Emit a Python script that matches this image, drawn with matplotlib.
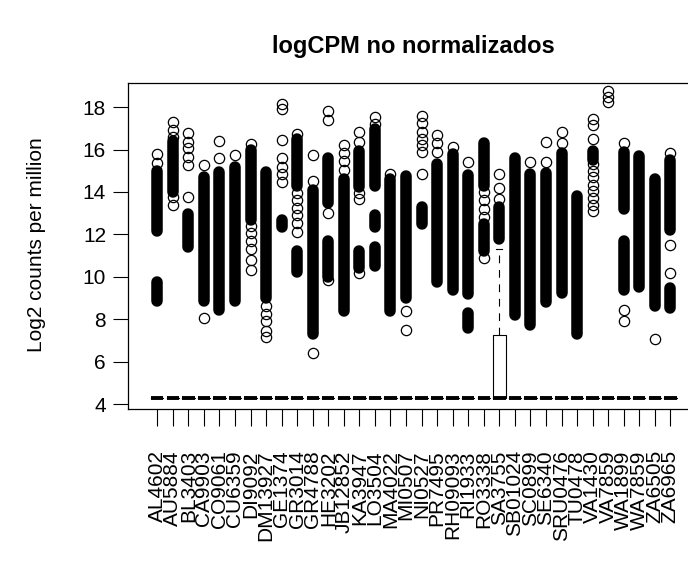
import numpy as np
import matplotlib
matplotlib.use('Agg')
import matplotlib.pyplot as plt

plt.rcParams['font.family'] = ['Liberation Sans', 'DejaVu Sans']

# --- data --------------------------------------------------------------
samples = ['AL4602', 'AU5884', 'BL3403', 'CA9903', 'CO9061', 'CU6359',
           'DI9092', 'DM13927', 'GE1374', 'GR3014', 'GR4788', 'HE3202',
           'JB12852', 'KA3947', 'LO3504', 'MA4022', 'MI0507', 'NI0527',
           'PR7495', 'RH09093', 'RI1933', 'RO3338', 'SA3755', 'SB01024',
           'SC0899', 'SE6340', 'SRU0476', 'TU0478', 'VA1430', 'VA7859',
           'WA1899', 'WA7859', 'ZA6505', 'ZA6965']

# box statistics (almost every sample collapses onto the logCPM floor)
box_q1 = [4.28] * 34
box_med = [4.28] * 34
box_q3 = [4.28, 4.28, 4.28, 4.28, 4.28, 4.28, 4.28, 4.28, 4.28, 4.28,
          4.28, 4.28, 4.28, 4.28, 4.28, 4.28, 4.28, 4.28, 4.28, 4.28,
          4.28, 4.28, 7.25, 4.28, 4.28, 4.28, 4.28, 4.28, 4.28, 4.28,
          4.28, 4.28, 4.28, 4.28]
whisk_lo = [4.28] * 34
whisk_hi = [4.28, 4.28, 4.28, 4.28, 4.28, 4.28, 4.28, 4.28, 4.28, 4.28,
            4.28, 4.28, 4.28, 4.28, 4.28, 4.28, 4.28, 4.28, 4.28, 4.28,
            4.28, 4.28, 11.3, 4.28, 4.28, 4.28, 4.28, 4.28, 4.28, 4.28,
            4.28, 4.28, 4.28, 4.28]

# outlier runs where the circles pile up into a solid column (lo, hi)
dense_runs = [
    [(12.15, 15.0), (8.85, 9.75)],
    [(14.0, 16.4)],
    [(11.42, 12.95)],
    [(8.85, 14.7)],
    [(8.45, 14.95)],
    [(8.85, 15.2)],
    [(12.7, 16.0)],
    [(9.0, 14.95)],
    [(12.36, 12.7)],
    [(14.3, 16.5), (10.25, 11.2)],
    [(7.3, 14.1)],
    [(13.5, 15.6), (10.0, 11.7)],
    [(8.4, 14.6)],
    [(14.25, 15.95), (10.4, 11.2)],
    [(14.3, 16.95), (12.35, 12.9), (10.5, 11.4)],
    [(8.4, 14.6)],
    [(9.0, 14.75)],
    [(12.5, 13.3)],
    [(9.75, 15.3)],
    [(9.4, 15.8)],
    [(9.2, 14.8), (7.6, 8.3)],
    [(14.3, 16.3), (11.2, 12.5)],
    [(11.8, 13.3)],
    [(8.2, 15.6)],
    [(7.75, 14.85)],
    [(8.8, 14.9)],
    [(9.25, 15.85)],
    [(7.3, 13.8)],
    [(15.5, 15.95)],
    [],
    [(13.2, 15.9), (9.4, 11.7)],
    [(9.5, 15.7)],
    [(8.6, 14.6)],
    [(12.2, 15.5), (8.55, 9.45)],
]

# single outlier circles
lone_points = [
    [15.8, 15.35],
    [17.3, 16.9, 16.6, 13.75, 13.4],
    [16.76, 16.37, 16.06, 15.66, 15.27, 13.76],
    [15.25, 8.05],
    [16.4, 15.6],
    [15.75],
    [16.25, 12.4, 12.05, 11.7, 11.3, 10.8, 10.3],
    [8.6, 8.25, 7.9, 7.45, 7.15],
    [18.15, 17.9, 16.45, 15.58, 15.19, 14.87, 14.48],
    [16.75, 13.95, 13.6, 13.25, 12.9, 12.55, 12.1],
    [15.75, 14.5, 6.4],
    [17.8, 17.4, 13.0, 9.85],
    [16.2, 15.85, 15.45, 15.05],
    [16.85, 16.35, 13.95, 13.65, 10.2],
    [17.55, 17.2],
    [14.85],
    [8.4, 7.5],
    [17.6, 17.25, 16.85, 16.5, 16.2, 15.9, 14.85],
    [16.7, 16.3, 15.9],
    [16.1],
    [15.4],
    [14.0, 13.6, 13.2, 12.8, 10.9],
    [13.65, 14.2, 14.85],
    [],
    [15.4],
    [16.35, 15.4],
    [16.85, 16.3],
    [],
    [17.45, 17.15, 16.5, 15.3, 15.0, 14.7, 14.35, 14.05, 13.7, 13.4, 13.1],
    [18.75, 18.5, 18.25],
    [16.3, 8.45, 7.9],
    [],
    [7.05],
    [15.85, 11.5, 10.2],
]

# --- figure --------------------------------------------------------------
fig = plt.figure(figsize=(6.88, 5.67), dpi=100)
ax = fig.add_axes([0.1865, 0.2795, 0.8299, 0.5746])

pos = np.arange(1, len(samples) + 1)

stats = []
for i, name in enumerate(samples):
    stats.append(dict(med=box_med[i], q1=box_q1[i], q3=box_q3[i],
                      whislo=whisk_lo[i], whishi=whisk_hi[i],
                      fliers=np.array(lone_points[i]), label=name))

ax.bxp(stats, positions=pos, widths=0.8, capwidths=0.4,
       boxprops=dict(color='black', lw=0.8),
       medianprops=dict(color='black', lw=2.8, solid_capstyle='butt'),
       whiskerprops=dict(color='black', lw=0.8, linestyle=(0, (7, 6))),
       capprops=dict(color='black', lw=0.8),
       flierprops=dict(marker='o', markersize=7.4, markerfacecolor='none',
                       markeredgecolor='black', markeredgewidth=0.9))

# piled-up outliers, drawn as a column one circle wide
for x, runs in zip(pos, dense_runs):
    for lo, hi in runs:
        ax.plot([x, x], [lo, hi], color='black', lw=8.3,
                solid_capstyle='round', zorder=2)

ax.set_xlim(-0.86, 35.86)
ax.set_ylim(3.79, 19.15)

ax.set_yticks([4, 6, 8, 10, 12, 14, 16, 18])
ax.set_xticks(pos)
ax.set_xticklabels(samples, rotation=90, fontsize=15)
ax.tick_params(axis='y', labelsize=15, length=11, width=0.8, pad=5)
ax.tick_params(axis='x', length=12, width=0.8, pad=18)
for s in ax.spines.values():
    s.set_linewidth(0.9)

fig.text(37 / 688, 1 - 245 / 567, 'Log2 counts per million', rotation=90,
         ha='center', va='center', fontsize=15)
fig.text(413.8 / 688, 1 - 47 / 567, 'logCPM no normalizados',
         ha='center', va='center', fontsize=17, fontweight='bold')

fig.savefig('out.png', dpi=100)
